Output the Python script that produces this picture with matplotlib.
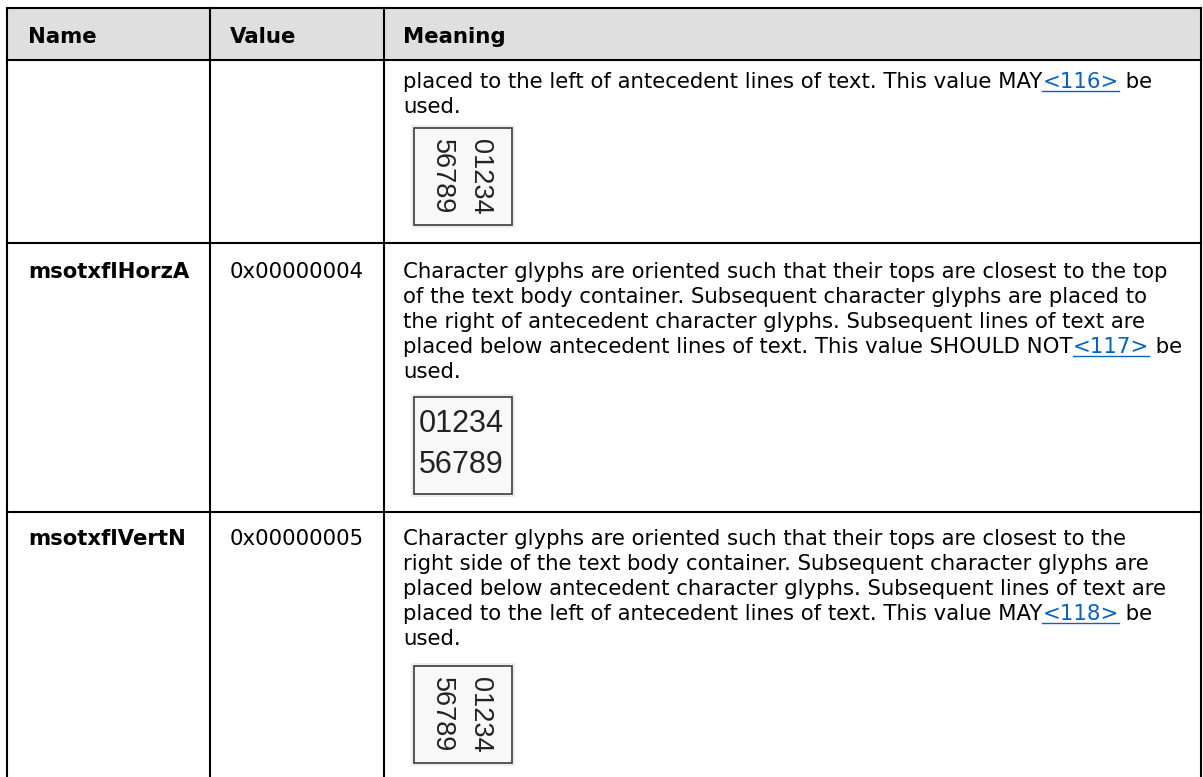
import matplotlib
matplotlib.use('Agg')
import matplotlib.pyplot as plt
from matplotlib import font_manager
from matplotlib.patches import Rectangle

# Table content
headers = ['Name', 'Value', 'Meaning']
names = ['', 'msotxflHorzA', 'msotxflVertN']
values = ['', '0x00000004', '0x00000005']
links = ['<116>', '<117>', '<118>']
meaning_lines = [
    ['placed to the left of antecedent lines of text. This value MAY{link} be',
     'used.'],
    ['Character glyphs are oriented such that their tops are closest to the top',
     'of the text body container. Subsequent character glyphs are placed to',
     'the right of antecedent character glyphs. Subsequent lines of text are',
     'placed below antecedent lines of text. This value SHOULD NOT{link} be',
     'used.'],
    ['Character glyphs are oriented such that their tops are closest to the',
     'right side of the text body container. Subsequent character glyphs are',
     'placed below antecedent character glyphs. Subsequent lines of text are',
     'placed to the left of antecedent lines of text. This value MAY{link} be',
     'used.'],
]
sample_kind = ['vertical', 'horizontal', 'vertical']
sample_digits = ['01234', '56789']

# Layout in pixels
W, H = 1203, 777
col_x = [7, 210, 384, 1201]
table_top = 8
header_bottom = 60
row_bottoms = [243, 512, H]
first_baseline = [88, 278, 545]
box_top = [128, 397, 666]
line_step = 25
text_pad = [21, 20, 19]
box_left = 414
box_w, box_h = 98, 97

plt.rcParams['font.family'] = 'DejaVu Sans'
fs = 15.3
link_color = '#0563C1'
installed = {f.name for f in font_manager.fontManager.ttflist}
digit_font = 'Liberation Sans Narrow' if 'Liberation Sans Narrow' in installed else 'Liberation Sans'

fig = plt.figure(figsize=(W / 100, H / 100), dpi=100)
ax = fig.add_axes([0, 0, 1, 1])
ax.set_xlim(0, W)
ax.set_ylim(H, 0)
ax.axis('off')

# header background and grid
ax.add_patch(Rectangle((col_x[0], table_top), col_x[-1] - col_x[0], header_bottom - table_top,
                       facecolor='#DFDFDF', edgecolor='none', zorder=0))
lw = 1.5
ax.plot([col_x[0], col_x[-1]], [table_top, table_top], color='black', lw=lw)
for y in [header_bottom] + row_bottoms[:-1]:
    ax.plot([col_x[0], col_x[-1]], [y, y], color='black', lw=lw)
for x in col_x:
    ax.plot([x, x], [table_top, H], color='black', lw=lw)

# header text
for i, h in enumerate(headers):
    ax.text(col_x[i] + text_pad[i], 43, h, fontsize=fs, fontweight='bold',
            ha='left', va='baseline')

fig.canvas.draw()
renderer = fig.canvas.get_renderer()

for r in range(3):
    base = first_baseline[r]
    if names[r]:
        ax.text(col_x[0] + text_pad[0], base, names[r], fontsize=fs, fontweight='bold',
                ha='left', va='baseline')
    if values[r]:
        ax.text(col_x[1] + text_pad[1], base, values[r], fontsize=fs,
                ha='left', va='baseline')
    x0 = col_x[2] + text_pad[2]
    for k, line in enumerate(meaning_lines[r]):
        y = base + k * line_step
        if '{link}' in line:
            pre, post = line.split('{link}')
            t1 = ax.text(x0, y, pre, fontsize=fs, ha='left', va='baseline')
            w1 = t1.get_window_extent(renderer).width
            t2 = ax.text(x0 + w1, y, links[r], fontsize=fs, color=link_color,
                         ha='left', va='baseline')
            w2 = t2.get_window_extent(renderer).width
            ax.plot([x0 + w1, x0 + w1 + w2], [y + 3, y + 3], color=link_color, lw=1)
            ax.text(x0 + w1 + w2, y, post, fontsize=fs, ha='left', va='baseline')
        else:
            ax.text(x0, y, line, fontsize=fs, ha='left', va='baseline')

    # sample picture
    bt = box_top[r]
    ax.add_patch(Rectangle((box_left - 3, bt - 3), box_w + 6, box_h + 6,
                           facecolor='#EDEDED', edgecolor='none', zorder=1))
    ax.add_patch(Rectangle((box_left, bt), box_w, box_h, facecolor='#F8F8F8',
                           edgecolor='#3C3C3C', lw=1.2, zorder=2))
    if sample_kind[r] == 'vertical':
        for j, xc in enumerate([box_left + 66, box_left + 28]):
            ax.text(xc, bt + box_h / 2, sample_digits[j], rotation=-90,
                    family=digit_font, fontsize=19.5, color='#222222',
                    ha='center', va='center', zorder=3)
    else:
        for j, yc in enumerate([bt + 27, bt + 68]):
            ax.text(box_left + box_w / 2 - 2, yc, sample_digits[j],
                    family=digit_font, fontsize=25 if 'Narrow' in digit_font else 22,
                    color='#222222', ha='center', va='center', zorder=3)

fig.savefig('out.png', dpi=100)
